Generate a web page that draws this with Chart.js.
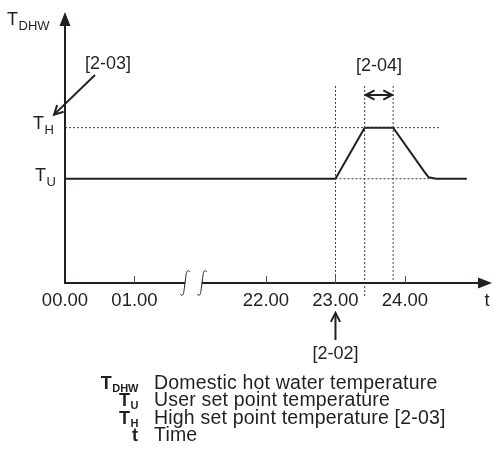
<!DOCTYPE html>
<html><head><meta charset="utf-8">
<script src="https://cdn.jsdelivr.net/npm/chart.js@4/dist/chart.umd.min.js"></script>
<style>html,body{margin:0;padding:0;background:#fff}#wrap{width:493px;height:455px}</style>
</head><body><div id="wrap"><canvas id="c" width="493" height="455"></canvas></div>
<script>
// ---- data ----
const tickHours = [0, 1, 22, 23, 24];
const tickLabels = ['00.00', '01.00', '22.00', '23.00', '24.00'];
const curveHours = [0, 23.00, 23.42, 23.83, 24.27, 24.34, 24.45, 24.89];
const curveTemps = [47, 47, 70, 70, 50.5, 47.6, 47, 47];
const setTU = 47;
const setTH = 70;
const markerHours = [23.00, 23.42, 23.83];
const markerTop = 88.8;
const markerBottoms = [0, -6, 0.8];
const thGuideEnd = 24.51;
const tuGuideEnd = 24.46;
const legendSymbols = [['T', 'DHW'], ['T', 'U'], ['T', 'H'], ['t', '']];
const legendTexts = ['Domestic hot water temperature', 'User set point temperature', 'High set point temperature [2-03]', 'Time'];

// axis break: 01.00 .. 22.00 compressed
const breakShift = 19.108;
const breakMarks = [1.727, 1.971];
const toAxis = h => (h <= 1 ? h : h - breakShift);

const ink = '#231f20';
const FONT = '"Liberation Sans", Arial, Helvetica, sans-serif';

const pts = (hs, vs) => hs.map((h, i) => ({ x: toAxis(h), y: vs[i] }));
const dotted = { borderColor: '#3a3a3a', borderWidth: 1, borderDash: [2, 2], pointRadius: 0, fill: false, clip: false };

const datasets = [];
datasets.push(Object.assign({ data: pts([0, thGuideEnd], [setTH, setTH]) }, dotted));
datasets.push(Object.assign({ data: pts([markerHours[0], tuGuideEnd], [setTU, setTU]) }, dotted));
markerHours.forEach((h, i) => {
  datasets.push(Object.assign({ data: pts([h, h], [markerTop, markerBottoms[i]]) }, dotted));
});
datasets.push({ data: pts(curveHours, curveTemps), borderColor: ink, borderWidth: 2, pointRadius: 0, fill: false, tension: 0, clip: false });

function sub(ctx, main, s, x, y, align, bold, mainSize, subSize, dy) {
  const w = bold ? 'bold ' : '';
  ctx.font = w + mainSize + 'px ' + FONT;
  const w1 = ctx.measureText(main).width;
  ctx.font = w + subSize + 'px ' + FONT;
  const w2 = s ? ctx.measureText(s).width : 0;
  let sx = align === 'right' ? x - w1 - w2 : x;
  ctx.textAlign = 'left'; ctx.textBaseline = 'alphabetic';
  ctx.font = w + mainSize + 'px ' + FONT;
  ctx.fillText(main, sx, y);
  if (s) { ctx.font = w + subSize + 'px ' + FONT; ctx.fillText(s, sx + w1 + 0.5, y + dy); }
}
function arrow(ctx, x1, y1, x2, y2, both) {
  ctx.beginPath(); ctx.moveTo(x1, y1); ctx.lineTo(x2, y2); ctx.stroke();
  const head = (tx, ty, fx, fy) => {
    const a = Math.atan2(ty - fy, tx - fx), L = 10, s = Math.PI / 6.5;
    ctx.beginPath();
    ctx.moveTo(tx - L * Math.cos(a - s), ty - L * Math.sin(a - s));
    ctx.lineTo(tx, ty);
    ctx.lineTo(tx - L * Math.cos(a + s), ty - L * Math.sin(a + s));
    ctx.stroke();
  };
  head(x2, y2, x1, y1);
  if (both) head(x1, y1, x2, y2);
}

const diagram = {
  id: 'diagram',
  afterDatasetsDraw(chart) {
    const ctx = chart.ctx, xs = chart.scales.x, ys = chart.scales.y, ca = chart.chartArea;
    const X = h => xs.getPixelForValue(toAxis(h));
    const Y = v => ys.getPixelForValue(v);
    const x0 = xs.getPixelForValue(0), y0 = Y(0);
    ctx.save();
    ctx.strokeStyle = ink; ctx.fillStyle = ink; ctx.lineCap = 'butt';
    // y axis
    ctx.lineWidth = 2;
    ctx.beginPath(); ctx.moveTo(x0, y0 + 1); ctx.lineTo(x0, ca.top + 10); ctx.stroke();
    ctx.beginPath(); ctx.moveTo(x0, ca.top - 2); ctx.lineTo(x0 - 5.5, ca.top + 12); ctx.lineTo(x0 + 5.5, ca.top + 12); ctx.closePath(); ctx.fill();
    // x axis with break
    const b1 = xs.getPixelForValue(breakMarks[0]), b2 = xs.getPixelForValue(breakMarks[1]);
    ctx.beginPath(); ctx.moveTo(x0 - 1, y0); ctx.lineTo(b1, y0); ctx.moveTo(b2, y0); ctx.lineTo(ca.right - 10, y0); ctx.stroke();
    ctx.beginPath(); ctx.moveTo(ca.right + 1, y0); ctx.lineTo(ca.right - 13, y0 - 5.5); ctx.lineTo(ca.right - 13, y0 + 5.5); ctx.closePath(); ctx.fill();
    ctx.lineWidth = 1;
    [b1, b2].forEach(bx => {
      ctx.beginPath();
      ctx.moveTo(bx - 5, y0 + 11);
      ctx.bezierCurveTo(bx - 1, y0 + 16, bx - 1, y0 + 6, bx, y0);
      ctx.bezierCurveTo(bx + 1, y0 - 6, bx + 1, y0 - 16, bx + 5, y0 - 11);
      ctx.stroke();
    });
    // ticks
    ctx.strokeStyle = '#555';
    tickHours.forEach((h, i) => {
      if (i === 0) return;
      const tx = Math.round(X(h)) + 0.5;
      ctx.beginPath(); ctx.moveTo(tx, y0); ctx.lineTo(tx, y0 - 7); ctx.stroke();
    });
    ctx.strokeStyle = ink;
    ctx.font = '18.5px ' + FONT; ctx.textAlign = 'center'; ctx.textBaseline = 'middle';
    tickHours.forEach((h, i) => ctx.fillText(tickLabels[i], X(h), y0 + 18));
    ctx.fillText('t', ca.right - 4, y0 + 18);
    // y labels
    sub(ctx, 'T', 'DHW', 7, 25, 'left', false, 18, 13, 5);
    sub(ctx, 'T', 'H', x0 - 32, Y(setTH) + 1, 'left', false, 18, 13, 5);
    sub(ctx, 'T', 'U', x0 - 30, Y(setTU) + 2, 'left', false, 18, 13, 5);
    // annotations
    ctx.font = '18px ' + FONT; ctx.textAlign = 'center'; ctx.textBaseline = 'middle';
    ctx.fillText('[2-03]', 108, 64);
    const xm1 = X(markerHours[1]), xm2 = X(markerHours[2]), xm0 = X(markerHours[0]);
    ctx.fillText('[2-04]', (xm1 + xm2) / 2, 66);
    ctx.fillText('[2-02]', xm0, 354);
    ctx.lineWidth = 2;
    arrow(ctx, 95, 75, x0 - 11, Y(setTH) - 13, false);
    arrow(ctx, xm1 + 1, 95, xm2 - 1, 95, true);
    arrow(ctx, xm0, 340, xm0, y0 + 30, false);
    // legend
    const rows = [382, 399.5, 417, 434.5];
    legendSymbols.forEach((s, i) => {
      sub(ctx, s[0], s[1], 138, rows[i] + 6.5, 'right', true, 18, 11, 3);
      ctx.font = '19.5px ' + FONT; ctx.textAlign = 'left'; ctx.textBaseline = 'alphabetic';
      ctx.letterSpacing = '0.2px';
      ctx.fillText(legendTexts[i], 154, rows[i] + 6.5);
      ctx.letterSpacing = '0px';
    });
    ctx.restore();
  }
};

new Chart(document.getElementById('c'), {
  type: 'line',
  data: { datasets },
  options: {
    responsive: false, animation: false, events: [],
    layout: { padding: { left: 65, right: 2, top: 14, bottom: 172 } },
    scales: {
      x: { type: 'linear', display: false, min: 0, max: 6.13 },
      y: { type: 'linear', display: false, min: 0, max: 121.2 }
    },
    plugins: { legend: { display: false }, tooltip: { enabled: false } }
  },
  plugins: [diagram]
});
</script></body></html>
